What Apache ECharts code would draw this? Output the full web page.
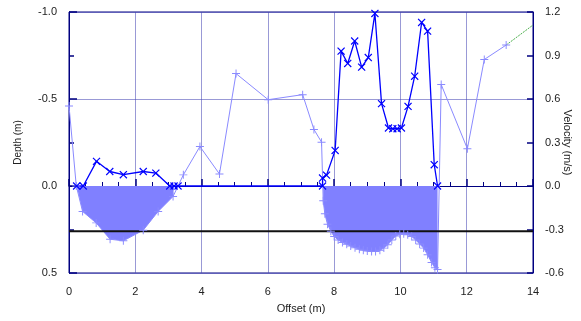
<!DOCTYPE html>
<html>
<head>
<meta charset="utf-8">
<script src="https://cdn.jsdelivr.net/npm/echarts@6/dist/echarts.min.js"></script>
<style>
html,body{margin:0;padding:0;background:#fff;}
#c{width:581px;height:321px;}
</style>
</head>
<body>
<div id="c"></div>
<script>
// Offset ticks
const xTicks = [0, 2, 4, 6, 8, 10, 12, 14];
// Bed profile (depth, m) : [offset, depth]
const bedProfile = [
  [0, -0.46], [0.22, 0.0], [0.41, 0.146], [0.82, 0.212], [1.24, 0.306], [1.64, 0.315],
  [2.24, 0.254], [2.69, 0.146], [3.14, 0.06], [3.45, -0.064], [3.95, -0.227], [4.54, -0.069],
  [5.04, -0.646], [6.01, -0.496], [7.05, -0.525], [7.39, -0.325], [7.62, -0.252],
  [7.67, 0.085], [7.72, 0.16], [7.80, 0.22], [7.90, 0.26], [8.00, 0.29], [8.12, 0.31],
  [8.25, 0.325], [8.38, 0.335], [8.50, 0.345], [8.63, 0.355], [8.76, 0.363], [8.88, 0.369],
  [9.00, 0.374], [9.13, 0.377], [9.25, 0.376], [9.38, 0.369], [9.50, 0.357], [9.62, 0.338],
  [9.74, 0.31], [9.86, 0.287], [9.98, 0.278], [10.10, 0.275], [10.22, 0.28], [10.34, 0.29],
  [10.46, 0.31], [10.58, 0.333], [10.70, 0.357], [10.82, 0.395], [10.94, 0.44], [11.04, 0.47],
  [11.12, 0.48], [11.23, -0.583], [12.02, -0.214], [12.53, -0.727], [13.19, -0.81]
];
// Water-filled sections (depth, m)
const waterLeft = [
  [0.23, 0], [0.41, 0.146], [0.82, 0.212], [1.24, 0.306], [1.64, 0.315],
  [2.24, 0.254], [2.69, 0.146], [3.14, 0.06], [3.17, 0]
];
const waterRight = [
  [7.67, 0], [7.67, 0.085], [7.72, 0.16], [7.80, 0.22], [7.90, 0.26], [8.00, 0.29], [8.12, 0.31],
  [8.25, 0.325], [8.38, 0.335], [8.50, 0.345], [8.63, 0.355], [8.76, 0.363], [8.88, 0.369],
  [9.00, 0.374], [9.13, 0.377], [9.25, 0.376], [9.38, 0.369], [9.50, 0.357], [9.62, 0.338],
  [9.74, 0.31], [9.86, 0.287], [9.98, 0.278], [10.10, 0.275], [10.22, 0.28], [10.34, 0.29],
  [10.46, 0.31], [10.58, 0.333], [10.70, 0.357], [10.82, 0.395], [10.94, 0.44], [11.04, 0.47],
  [11.12, 0.48], [11.12, 0]
];
// Extension of bank profile (depth, m)
const bankExtension = [[13.19, -0.81], [14.0, -0.925]];
// Reference level (depth, m)
const refLevel = [[0, 0.26], [14, 0.26]];
// Velocity (m/s) : [offset, velocity]
const velocity = [
  [0.23, 0], [0.43, 0], [0.83, 0.17], [1.23, 0.10], [1.64, 0.078], [2.24, 0.10], [2.62, 0.089],
  [3.04, 0], [3.17, 0], [3.29, 0], [7.65, 0], [7.65, 0.055], [7.77, 0.075], [8.03, 0.245],
  [8.21, 0.93], [8.41, 0.845], [8.62, 1.0], [8.83, 0.82], [9.03, 0.886], [9.23, 1.19],
  [9.43, 0.568], [9.64, 0.40], [9.77, 0.395], [9.90, 0.395], [10.03, 0.40], [10.23, 0.549],
  [10.43, 0.757], [10.64, 1.128], [10.82, 1.068], [11.02, 0.147], [11.12, 0]
];

const PLUS = 'path://M4.4,0H5.6V4.4H10V5.6H5.6V10H4.4V5.6H0V4.4H4.4Z';
const NAVY = '#000080';
const GRIDC = 'rgba(70,70,180,0.55)';
const FONT = 'Liberation Sans';

const chart = echarts.init(document.getElementById('c'), null, {renderer: 'canvas'});
chart.setOption({
  animation: false,
  backgroundColor: '#fff',
  grid: {left: 69, right: 48, top: 12, bottom: 48, containLabel: false, outerBoundsMode: 'none',
         show: true, borderColor: NAVY, borderWidth: 1, backgroundColor: 'transparent'},
  xAxis: {
    type: 'value', min: xTicks[0], max: xTicks[xTicks.length - 1], interval: 2,
    name: 'Offset (m)', nameLocation: 'middle', nameGap: 30, nameMoveOverlap: false,
    nameTextStyle: {fontFamily: FONT, fontSize: 11, color: '#222'},
    axisLine: {show: true, lineStyle: {color: NAVY}},
    axisTick: {show: true, inside: true, length: 7, lineStyle: {color: NAVY, width: 1.5}},
    minorTick: {show: true, splitNumber: 4, length: 4, lineStyle: {color: NAVY, width: 1}},
    axisLabel: {fontFamily: FONT, fontSize: 11, color: '#222', margin: 13},
    splitLine: {show: true, lineStyle: {color: GRIDC, width: 1}}
  },
  yAxis: [{
    type: 'value', min: -1, max: 0.5, interval: 0.5, inverse: true,
    name: 'Depth (m)', nameLocation: 'middle', nameGap: 46, nameRotate: 90, nameMoveOverlap: false,
    nameTextStyle: {fontFamily: FONT, fontSize: 10, color: '#222'},
    axisLine: {show: true, lineStyle: {color: NAVY}},
    axisTick: {show: true, inside: true, length: 8, lineStyle: {color: NAVY, width: 1.5}},
    minorTick: {show: true, splitNumber: 2, length: 5, lineStyle: {color: NAVY, width: 1.5}},
    axisLabel: {fontFamily: FONT, fontSize: 11, color: '#222', margin: 12, formatter: v => v.toFixed(1)},
    splitLine: {show: true, lineStyle: {color: GRIDC, width: 1}}
  }, {
    type: 'value', min: -0.6, max: 1.2, interval: 0.3, position: 'right',
    name: 'Velocity (m/s)', nameLocation: 'middle', nameGap: 29, nameRotate: -90, nameMoveOverlap: false,
    nameTextStyle: {fontFamily: FONT, fontSize: 11, color: '#222'},
    axisLine: {show: true, lineStyle: {color: NAVY}},
    axisTick: {show: true, inside: true, length: 6, lineStyle: {color: NAVY, width: 1.5}},
    axisLabel: {fontFamily: FONT, fontSize: 11, color: '#222', margin: 12, formatter: v => v.toFixed(1)},
    splitLine: {show: false}
  }],
  series: [
    {
      name: 'bed', type: 'line', yAxisIndex: 0, data: bedProfile,
      symbol: PLUS, symbolSize: 8, showSymbol: true,
      itemStyle: {color: '#8a8aff'},
      lineStyle: {color: '#8a8aff', width: 1}
    },
    {
      name: 'bankExt', type: 'line', yAxisIndex: 0, data: bankExtension,
      symbol: 'none', lineStyle: {color: '#4caf4c', width: 1, type: [2, 1]}
    },
    {
      name: 'waterL', type: 'line', yAxisIndex: 0, data: waterLeft,
      symbol: 'none', lineStyle: {width: 0, color: '#8080ff'},
      areaStyle: {color: '#8080ff', opacity: 1, origin: 0}
    },
    {
      name: 'waterR', type: 'line', yAxisIndex: 0, data: waterRight,
      symbol: 'none', lineStyle: {width: 0, color: '#8080ff'},
      areaStyle: {color: '#8080ff', opacity: 1, origin: 0}
    },
    {
      name: 'ref', type: 'line', yAxisIndex: 0, data: refLevel,
      symbol: 'none', lineStyle: {color: '#111', width: 2}
    },
    {
      name: 'velocity', type: 'line', yAxisIndex: 1, data: velocity,
      symbol: PLUS, symbolRotate: 45, symbolSize: 10, showSymbol: true,
      itemStyle: {color: '#0000ff'},
      lineStyle: {color: '#0000ff', width: 1.3}
    }
  ]
});
</script>
</body>
</html>
